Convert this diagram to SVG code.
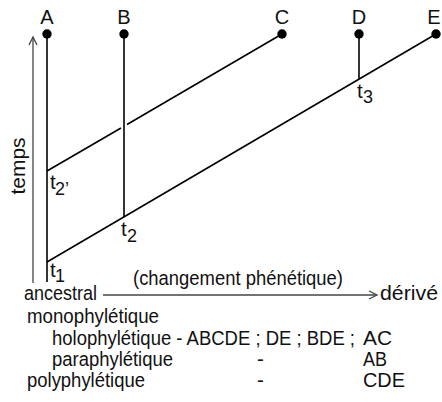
<svg xmlns="http://www.w3.org/2000/svg" width="442" height="402" viewBox="0 0 442 402">
<style>
text{font-family:"Liberation Sans",Arial,sans-serif;font-size:20.5px;fill:#111}
.lbl{font-size:20px}
.sub{font-size:18px}
.ln{stroke:#000;stroke-width:1.6;fill:none}
.ax{stroke:#444;stroke-width:1.3;fill:none}
.dot{fill:#000}
</style>
<rect width="442" height="402" fill="#fff"/>
<g id="connectors">
<line class="ln" x1="47" y1="34" x2="47" y2="282"/>
<line class="ln" x1="124" y1="34" x2="124" y2="217"/>
<line class="ln" x1="359" y1="34" x2="359" y2="79"/>
<line class="ln" x1="47" y1="262" x2="436" y2="34"/>
<line class="ln" x1="47" y1="171" x2="121" y2="128"/>
<line class="ln" x1="127" y1="124.5" x2="282" y2="34"/>
</g>
<g id="axes">
<line class="ax" x1="33" y1="283" x2="33" y2="37"/>
<polyline class="ax" points="29,45 33,37 37,45"/>
<line class="ax" x1="103" y1="295" x2="377" y2="295"/>
<polyline class="ax" points="369,291 377,295 369,299"/>
<text x="25" y="166" text-anchor="middle" transform="rotate(-90 25 166)" textLength="57" lengthAdjust="spacingAndGlyphs">temps</text>
<text x="24" y="300" textLength="73" lengthAdjust="spacingAndGlyphs">ancestral</text>
<text x="380" y="300" textLength="58" lengthAdjust="spacingAndGlyphs">dérivé</text>
<text x="133" y="285" textLength="210" lengthAdjust="spacingAndGlyphs">(changement phénétique)</text>
</g>
<g id="node-A"><circle class="dot" cx="47" cy="34" r="4.7"/><text class="lbl" x="47" y="24" text-anchor="middle">A</text></g>
<g id="node-B"><circle class="dot" cx="124" cy="34" r="4.7"/><text class="lbl" x="124" y="24" text-anchor="middle">B</text></g>
<g id="node-C"><circle class="dot" cx="282" cy="34" r="4.7"/><text class="lbl" x="282" y="24" text-anchor="middle">C</text></g>
<g id="node-D"><circle class="dot" cx="359" cy="34" r="4.7"/><text class="lbl" x="359" y="24" text-anchor="middle">D</text></g>
<g id="node-E"><circle class="dot" cx="436" cy="34" r="4.7"/><text class="lbl" x="434" y="24" text-anchor="middle">E</text></g>
<g id="node-t1"><text x="50" y="277">t<tspan class="sub" x="55" y="282">1</tspan></text></g>
<g id="node-t2p"><text x="50" y="189">t<tspan class="sub" x="55" y="195">2’</tspan></text></g>
<g id="node-t2"><text x="121" y="236">t<tspan class="sub" x="127" y="242">2</tspan></text></g>
<g id="node-t3"><text x="357" y="98">t<tspan class="sub" x="363" y="103">3</tspan></text></g>
<g id="legend">
<text x="27" y="323" textLength="132" lengthAdjust="spacingAndGlyphs">monophylétique</text>
<text x="52" y="345" textLength="303" lengthAdjust="spacingAndGlyphs">holophylétique - ABCDE ; DE ; BDE ;</text>
<text x="363" y="345" textLength="29" lengthAdjust="spacingAndGlyphs">AC</text>
<text x="52" y="366" textLength="121" lengthAdjust="spacingAndGlyphs">paraphylétique</text>
<text x="257" y="366">-</text>
<text x="363" y="366" textLength="24" lengthAdjust="spacingAndGlyphs">AB</text>
<text x="27" y="387" textLength="118" lengthAdjust="spacingAndGlyphs">polyphylétique</text>
<text x="257" y="387">-</text>
<text x="363" y="387" textLength="42" lengthAdjust="spacingAndGlyphs">CDE</text>
</g>
</svg>
